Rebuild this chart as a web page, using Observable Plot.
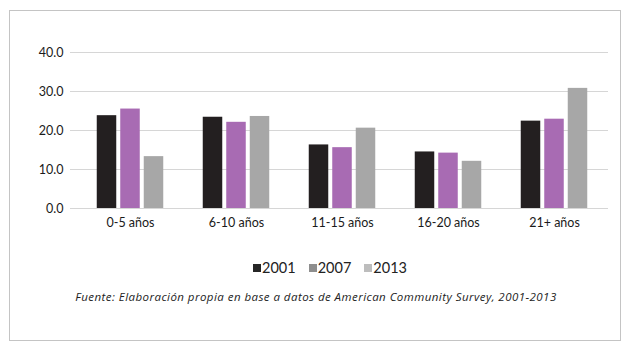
<!DOCTYPE html>
<html>
<head>
<meta charset="utf-8">
<script src="https://cdn.jsdelivr.net/npm/d3@7"></script>
<script src="https://cdn.jsdelivr.net/npm/@observablehq/plot@0.6"></script>
<style>
  html, body { margin: 0; padding: 0; background: #fff; }
  body { width: 626px; height: 343px; position: relative; overflow: hidden; font-family: Lato, "Open Sans", sans-serif; }
  #frame { position: absolute; left: 9px; top: 10px; width: 612px; height: 331px; border: 1px solid #c4c4c4; box-sizing: border-box; }
  #chart { position: absolute; left: 0; top: 0; }
  #legend { position: absolute; left: 0; width: 626px; top: 259px; display: flex; justify-content: center; gap: 13px; font-size: 14.5px; color: #222; padding-left: 34px; box-sizing: border-box; }
  #legend span.item { display: flex; align-items: center; gap: 1px; }
  #legend span.sw { width: 8px; height: 8px; display: inline-block; }
  #caption { position: absolute; left: 0; width: 626px; top: 289px; text-align: center; font-family: "Open Sans", Lato, sans-serif; font-style: italic; font-size: 11.5px; letter-spacing: 0.45px; color: #222; padding-left: 6px; box-sizing: border-box; }
</style>
</head>
<body>
<div id="frame"></div>
<div id="chart"></div>
<div id="legend"></div>
<div id="caption">Fuente: Elaboración propia en base a datos de American Community Survey, 2001-2013</div>
<script>
const categories = ["0-5 años", "6-10 años", "11-15 años", "16-20 años", "21+ años"];
const years = ["2001", "2007", "2013"];
const values2001 = [23.8, 23.4, 16.3, 14.5, 22.4];
const values2007 = [25.5, 22.1, 15.6, 14.2, 22.9];
const values2013 = [13.3, 23.6, 20.6, 12.1, 30.8];
const yTicks = [0, 10, 20, 30, 40];

const barColors = ["#231f20", "#a86bb3", "#a7a7a7"];
const legendColors = ["#262626", "#8e8e8e", "#bdbdbd"];
const seriesValues = [values2001, values2007, values2013];
const offsets = [-23.5, 0, 23.5];

const marks = [
  Plot.ruleY(yTicks, {stroke: "#d6d6d6", strokeWidth: 1})
];
seriesValues.forEach((vals, i) => {
  const rows = categories.map((c, j) => ({category: c, value: vals[j]}));
  marks.push(Plot.barY(rows, {
    x: "category", y: "value", fill: barColors[i],
    dx: offsets[i], insetLeft: 43.25, insetRight: 43.25
  }));
});

const chart = Plot.plot({
  width: 626,
  height: 235,
  marginTop: 52,
  marginBottom: 27,
  marginLeft: 70,
  marginRight: 18,
  style: {fontFamily: "Lato, 'Open Sans', sans-serif", fontSize: "12.5px", color: "#1a1a1a", background: "transparent"},
  x: {domain: categories, range: [77, 607], padding: 0, label: null, tickSize: 0, tickPadding: 10},
  y: {domain: [0, 40], ticks: yTicks, tickFormat: d => d.toFixed(1), label: null, tickSize: 0, tickPadding: 7},
  marks
});
document.getElementById("chart").appendChild(chart);

const legend = document.getElementById("legend");
years.forEach((y, i) => {
  const item = document.createElement("span");
  item.className = "item";
  const sw = document.createElement("span");
  sw.className = "sw";
  sw.style.background = legendColors[i];
  const t = document.createElement("span");
  t.textContent = y;
  item.appendChild(sw);
  item.appendChild(t);
  legend.appendChild(item);
});
</script>
</body>
</html>
